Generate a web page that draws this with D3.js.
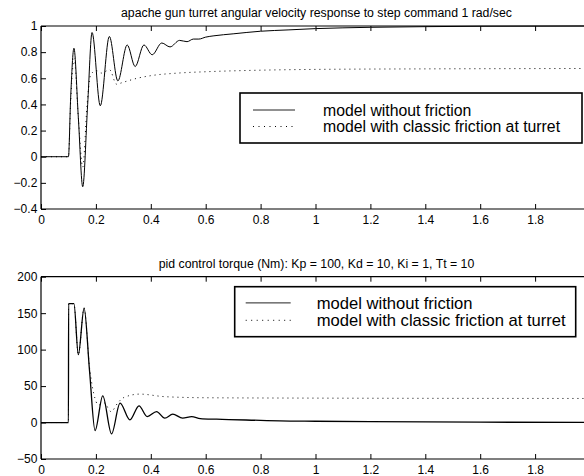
<!DOCTYPE html>
<html>
<head>
<meta charset="utf-8">
<script src="https://cdn.jsdelivr.net/npm/d3@7"></script>
<style>
    body { margin: 0; background: #fff; }
    svg { display: block; font-family: "Liberation Sans", Arial, Helvetica, sans-serif; }
</style>
</head>
<body>
<svg id="graphSVG" width="584" height="476"></svg>
<script>
// Data: [time (s), value]
const velNoFriction = [[0, 0], [0.1, 0], [0.108, 0.45], [0.12, 0.83], [0.136, 0.3], [0.152, -0.23],
    [0.17, 0.4], [0.186, 0.95], [0.216, 0.39], [0.249, 0.92], [0.28, 0.58], [0.314, 0.855],
    [0.343, 0.69], [0.375, 0.855], [0.405, 0.78], [0.44, 0.87], [0.47, 0.84], [0.505, 0.89],
    [0.532, 0.88], [0.555, 0.9], [0.575, 0.9], [0.6, 0.915], [0.63, 0.925], [0.7, 0.94],
    [0.8, 0.96], [0.9, 0.97], [1.0, 0.98], [1.1, 0.986], [1.2, 0.99], [1.4, 0.995], [1.6, 0.998], [2, 1.0]];
const velFriction = [[0, 0], [0.1, 0], [0.108, 0.42], [0.121, 0.75], [0.136, 0.3], [0.152, -0.08],
    [0.168, 0.4], [0.18, 0.62], [0.2, 0.66], [0.22, 0.64], [0.25, 0.665], [0.275, 0.555],
    [0.3, 0.57], [0.35, 0.6], [0.4, 0.62], [0.5, 0.64], [0.6, 0.65], [0.8, 0.662],
    [1.0, 0.668], [1.4, 0.672], [2, 0.675]];
const torqueNoFriction = [[0, 0], [0.1, 0], [0.1005, 163], [0.12, 163], [0.136, 93], [0.157, 157],
    [0.177, 70], [0.197, -11], [0.225, 36.6], [0.257, -15.5], [0.288, 26.6], [0.324, 3.7],
    [0.357, 22.9], [0.387, 8.2], [0.421, 15], [0.451, 6], [0.48, 11.5], [0.516, 6],
    [0.549, 8.2], [0.58, 5.5], [0.64, 4.6], [0.8, 3], [0.87, 2.3], [1.0, 1.8], [1.2, 1.2],
    [1.4, 0.8], [1.6, 0.5], [2, 0.2]];
const torqueFriction = [[0, 0], [0.1, 0], [0.1005, 163], [0.12, 163], [0.136, 93], [0.157, 157],
    [0.177, 75], [0.192, 40], [0.21, 24], [0.23, 27], [0.255, 15], [0.28, 27], [0.3, 34],
    [0.36, 39], [0.45, 35.5], [0.6, 34], [1, 33.5], [2, 33]];

const xTicks = [0, 0.2, 0.4, 0.6, 0.8, 1, 1.2, 1.4, 1.6, 1.8];
const velTicks = [-0.4, -0.2, 0, 0.2, 0.4, 0.6, 0.8, 1];
const torqueTicks = [-50, 0, 50, 100, 150, 200];
const legendLabels = ["model without friction", "model with classic friction at turret"];
const velTitle = "apache gun turret angular velocity response to step command 1 rad/sec";
const torqueTitle = "pid control torque (Nm): Kp = 100, Kd = 10, Ki = 1, Tt = 10";

const svg = d3.select('#graphSVG');
const left = 41;
const right = 590;   // axis box runs past the right edge of the picture

function drawPanel(opts) {
    const x = d3.scaleLinear().domain([0, 2]).range([left, right]);
    const y = d3.scaleLinear().domain(opts.yDomain).range([opts.bottom, opts.top]);
    const g = svg.append('g');

    // title
    g.append('text')
        .attr('x', 316.5)
        .attr('y', opts.top - 9)
        .attr('text-anchor', 'middle')
        .style('font-size', '12.3px')
        .text(opts.title);

    // curves
    const line = d3.line()
        .x(d => x(d[0]))
        .y(d => y(d[1]))
        .curve(d3.curveMonotoneX);

    g.append('path')
        .datum(opts.dotted)
        .attr('fill', 'none')
        .attr('stroke', '#000')
        .attr('stroke-width', 1)
        .attr('stroke-dasharray', '1,4')
        .attr('d', line);

    g.append('path')
        .datum(opts.solid)
        .attr('fill', 'none')
        .attr('stroke', '#000')
        .attr('stroke-width', opts.solidWidth)
        .attr('d', line);

    // axes, matlab style: ticks pointing in
    const fmt = d => d3.format('')(d).replace('-', '\u2212');
    const xb = g.append('g')
        .attr('transform', `translate(0,${opts.bottom})`)
        .call(d3.axisBottom(x).tickValues(xTicks).tickSize(-5).tickPadding(6.5).tickFormat(fmt));
    const xt = g.append('g')
        .attr('transform', `translate(0,${opts.top})`)
        .call(d3.axisTop(x).tickValues(xTicks).tickSize(-5).tickFormat(''));
    const yl = g.append('g')
        .attr('transform', `translate(${left},0)`)
        .call(d3.axisLeft(y).tickValues(opts.yTicks).tickSize(-5).tickPadding(3.7).tickFormat(fmt));

    [xb, xt, yl].forEach(a => {
        a.select('.domain').attr('stroke', '#000').attr('stroke-width', 1.2);
        a.selectAll('.tick line').attr('stroke', '#000');
        a.selectAll('.tick text').attr('fill', '#000').style('font-size', '12px')
            .style('font-family', '"Liberation Sans", Arial, sans-serif');
    });
    xb.select('.domain').attr('d', `M${left},0H${right}`);
    xt.select('.domain').attr('d', `M${left},0H${right}`);
    yl.select('.domain').attr('d', `M0,${opts.bottom}V${opts.top}`);

    // legend
    const L = opts.legend;
    const lg = g.append('g');
    lg.append('rect')
        .attr('x', L.x).attr('y', L.y)
        .attr('width', L.w).attr('height', L.h)
        .attr('fill', '#fff')
        .attr('stroke', '#000')
        .attr('stroke-width', 1.6);
    legendLabels.forEach((label, i) => {
        const ly = L.y + L.row0 + i * L.rowStep;
        lg.append('line')
            .attr('x1', L.x + L.lineX0).attr('x2', L.x + L.lineX1)
            .attr('y1', ly).attr('y2', ly)
            .attr('stroke', i === 0 ? '#222' : '#000')
            .attr('stroke-width', 1)
            .attr('stroke-dasharray', i === 0 ? null : '1,4.5');
        lg.append('text')
            .attr('x', L.x + L.textX)
            .attr('y', ly)
            .attr('dy', '0.36em')
            .style('font-size', L.fontSize + 'px')
            .text(label);
    });
}

drawPanel({
    top: 26, bottom: 209,
    yDomain: [-0.4, 1], yTicks: velTicks,
    solid: velNoFriction, dotted: velFriction, solidWidth: 1,
    title: velTitle,
    legend: { x: 240, y: 93, w: 342, h: 50, row0: 17, rowStep: 16.5,
              lineX0: 13, lineX1: 55, textX: 83, fontSize: 15.8 }
});

drawPanel({
    top: 276.7, bottom: 459,
    yDomain: [-50, 200], yTicks: torqueTicks,
    solid: torqueNoFriction, dotted: torqueFriction, solidWidth: 1.3,
    title: torqueTitle,
    legend: { x: 234.7, y: 286.7, w: 341, h: 50, row0: 16.2, rowStep: 17.4,
              lineX0: 11, lineX1: 56, textX: 82, fontSize: 16.6 }
});
</script>
</body>
</html>
